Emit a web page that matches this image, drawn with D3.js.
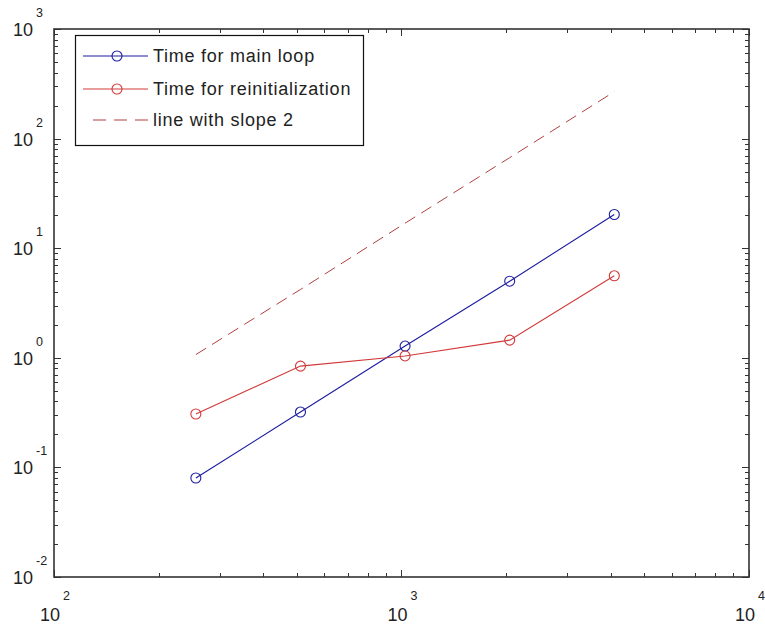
<!DOCTYPE html>
<html>
<head>
<meta charset="utf-8">
<script src="https://cdn.jsdelivr.net/npm/d3@7"></script>
<style>
  body { margin: 0; background: #fff; }
  svg text { font-family: "Liberation Sans", Arial, sans-serif; fill: #222; }
</style>
</head>
<body>
<svg id="chart"></svg>
<script>
// problem sizes (x) and timings (y)
var sizes = [256, 512, 1024, 2048, 4096];
var mainLoop = [0.080, 0.32, 1.28, 5.0, 20.3];
var reinit = [0.307, 0.84, 1.04, 1.45, 5.6];
var slope2 = [1.07, 4.2, 16.9, 67, 268];
var legendNames = ['Time for main loop', 'Time for reinitialization', 'line with slope 2'];
var xDecades = [2, 3, 4];
var yDecades = [-2, -1, 0, 1, 2, 3];

var width = 765, height = 628;
var margin = {left: 54, right: 16, top: 29, bottom: 51};

var svg = d3.select('#chart')
    .attr('width', width)
    .attr('height', height);

var x = d3.scaleLog()
    .domain([100, 10000])
    .range([margin.left, width - margin.right]);

var y = d3.scaleLog()
    .domain([0.01, 1000])
    .range([height - margin.bottom, margin.top]);

var x0 = x.range()[0], x1 = x.range()[1];
var y0 = y.range()[0], y1 = y.range()[1];

function isMajor(v) {
  var l = Math.log10(v);
  return Math.abs(l - Math.round(l)) < 1e-9;
}
var majorLen = 7, minorLen = 4;

// ticks (all sides, pointing inward)
var ticks = svg.append('g').attr('stroke', '#333').attr('stroke-width', 1);
x.ticks().forEach(function (v) {
  var len = isMajor(v) ? majorLen : minorLen;
  var px = Math.round(x(v)) + 0.5;
  ticks.append('line').attr('x1', px).attr('x2', px).attr('y1', y0).attr('y2', y0 - len);
  ticks.append('line').attr('x1', px).attr('x2', px).attr('y1', y1).attr('y2', y1 + len);
});
y.ticks().forEach(function (v) {
  var len = isMajor(v) ? majorLen : minorLen;
  var py = Math.round(y(v)) + 0.5;
  ticks.append('line').attr('x1', x0).attr('x2', x0 + len).attr('y1', py).attr('y2', py);
  ticks.append('line').attr('x1', x1).attr('x2', x1 - len).attr('y1', py).attr('y2', py);
});

// axes box
svg.append('rect')
    .attr('x', x0).attr('y', y1)
    .attr('width', x1 - x0).attr('height', y0 - y1)
    .attr('fill', 'none')
    .attr('stroke', '#333')
    .attr('stroke-width', 1.6);

// tick labels
var xl = svg.append('g');
xDecades.forEach(function (d) {
  var px = x(Math.pow(10, d));
  xl.append('text').attr('x', px - 14).attr('y', height - 7)
    .attr('font-size', 18).text('10');
  xl.append('text').attr('x', px + 9).attr('y', height - 28)
    .attr('font-size', 12.5).text(d);
});
var yl = svg.append('g');
yDecades.forEach(function (d) {
  var py = y(Math.pow(10, d));
  yl.append('text').attr('x', 33).attr('y', py + 7)
    .attr('text-anchor', 'end').attr('font-size', 18).text('10');
  yl.append('text').attr('x', 36).attr('y', py - 12)
    .attr('font-size', 12.5).text(d < 0 ? '-' + (-d) : d);
});

// series
var blue = '#1c1ca0', red = '#d23a3a', dash = '#b04040';
var line = d3.line()
    .x(function (d) { return x(d[0]); })
    .y(function (d) { return y(d[1]); });

svg.append('path')
    .datum(d3.zip(sizes, slope2))
    .attr('d', line)
    .attr('fill', 'none')
    .attr('stroke', dash)
    .attr('stroke-width', 1)
    .attr('stroke-dasharray', '12,7');

[[mainLoop, blue], [reinit, red]].forEach(function (s) {
  var pts = d3.zip(sizes, s[0]);
  svg.append('path')
      .datum(pts)
      .attr('d', line)
      .attr('fill', 'none')
      .attr('stroke', s[1])
      .attr('stroke-width', 1.1);
  svg.append('g').selectAll('circle')
      .data(pts)
      .enter()
      .append('circle')
      .attr('cx', function (d) { return x(d[0]); })
      .attr('cy', function (d) { return y(d[1]); })
      .attr('r', 5)
      .attr('fill', 'none')
      .attr('stroke', s[1])
      .attr('stroke-width', 1.1);
});

// legend
var lg = svg.append('g');
lg.append('rect')
    .attr('x', 75.5).attr('y', 35.5)
    .attr('width', 288).attr('height', 110)
    .attr('fill', '#fff')
    .attr('stroke', '#111')
    .attr('stroke-width', 1.2);
var legendColors = [blue, red, dash];
var rowY = [56, 89, 120];
legendNames.forEach(function (name, i) {
  var ly = rowY[i];
  var l = lg.append('line')
      .attr('x1', 83).attr('x2', 148)
      .attr('y1', ly).attr('y2', ly)
      .attr('stroke', legendColors[i])
      .attr('stroke-width', 1.1);
  if (i < 2) {
    lg.append('circle').attr('cx', 117).attr('cy', ly).attr('r', 5)
      .attr('fill', 'none').attr('stroke', legendColors[i]).attr('stroke-width', 1.1);
  } else {
    l.attr('x1', 93).attr('stroke-dasharray', '13,8');
  }
  lg.append('text')
      .attr('x', 153).attr('y', ly + 6)
      .attr('font-size', 18)
      .attr('letter-spacing', 0.75)
      .text(name);
});
</script>
</body>
</html>
